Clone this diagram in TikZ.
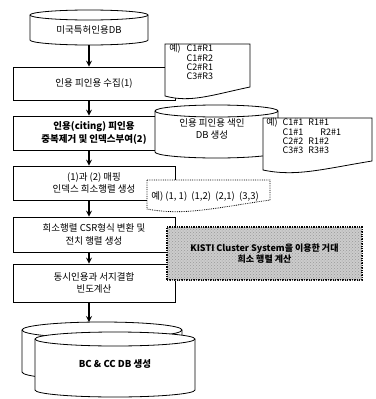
\documentclass[tikz,border=0pt]{standalone}
\usepackage{fontspec}
\setmainfont{Noto Sans CJK KR}
\usepackage{tikz}
\usetikzlibrary{arrows,patterns}

% cylinder: left, right, top rim, bottom rim, rim half height
\newcommand{\dbcyl}[5]{%
  \pgfmathsetmacro\dbrx{(#2-#1)/2}
  \filldraw[fill=white] (#1,#3) -- (#1,#4)
    arc[start angle=180,end angle=0,x radius=\dbrx,y radius=#5]
    -- (#2,#3) arc[start angle=360,end angle=180,x radius=\dbrx,y radius=#5] -- cycle;
  \draw (#1,#3) arc[start angle=180,end angle=0,x radius=\dbrx,y radius=#5];}

% note sheet with wavy bottom: left, right, top, lowest point, style
\newcommand{\notedoc}[5]{%
  \filldraw[fill=white,#5] (#1,#3) -- (#2,#3) -- (#2,{#4-12})
    .. controls ({#1+0.55*(#2-#1)},{#4-4}) and ({#1+0.3*(#2-#1)},{#4+4}) .. (#1,{#4-3}) -- cycle;}

\begin{document}
\begin{tikzpicture}[x=1pt,y=-1pt,line width=0.8pt,
  font=\fontsize{9.5}{12.5}\selectfont,
  proc/.style={draw,fill=white,minimum width=162pt,align=center,inner sep=2pt},
  exnote/.style={inner sep=0,font=\fontsize{9}{8.8}\selectfont},
  flow/.style={-stealth,line width=1.6pt}]
  \useasboundingbox (0,0) rectangle (375,399);

  \dbcyl{30}{148}{15}{40}{5}
  \node[minimum height=30pt,inner sep=0] (db1) at (89,30) {미국특허인용DB};

  \node[proc,minimum height=33pt] (box1) at (94,83.5) {인용 피인용 수집(1)};
  \notedoc{165}{250}{44}{99}{}
  \node[exnote,anchor=north west] (ex1) at (169,44)
    {\begin{tabular}{@{}l@{\hspace{6pt}}l@{}}예) & C1\#R1\\ & C1\#R2\\ & C2\#R1\\ & C3\#R3\end{tabular}};

  \node[proc,minimum height=34pt,font=\fontsize{9.5}{12.5}\selectfont\bfseries] (box2) at (94,133)
    {인용(citing) 피인용\\중복제거 및 인덱스부여(2)};
  \dbcyl{155}{278}{111}{152}{6}
  \node[align=center] (idxdb) at (212,129) {인용 피인용 색인\\DB 생성};
  \notedoc{263}{372}{118}{173}{}
  \node[exnote,anchor=north west] (ex2) at (266,118)
    {\begin{tabular}{@{}l@{\hspace{5pt}}l@{\hspace{5pt}}l@{}}예) & C1\#1 & R1\#1\\ & C1\#1 & \hspace{12pt}R2\#1\\ & C2\#2 & R1\#2\\ & C3\#3 & R3\#3\end{tabular}};

  \node[proc,minimum height=34pt] (box3) at (94,183) {(1)과 (2) 매핑\\인덱스 희소행렬 생성};
  \notedoc{147}{270}{180}{212}{densely dotted}
  \node[exnote,anchor=west,font=\fontsize{9.5}{11}\selectfont] (ex3) at (151,196)
    {예) (1, 1)\ \ (1,2)\ \ (2,1)\ \ (3,3)};

  \node[proc,minimum height=35pt] (box4) at (94,234.5) {희소행렬 CSR형식 변환 및\\전치 행렬 생성};
  \node[proc,minimum height=38pt] (box5) at (94,283) {동시인용과 서지결합\\빈도계산};
  \node[draw,densely dotted,line width=1.4pt,fill=gray!40,
    postaction={pattern=crosshatch dots,pattern color=gray!80},
    minimum width=195pt,minimum height=53pt,align=center,
    font=\fontsize{9}{11}\selectfont\bfseries] (kisti) at (264.5,253.5)
    {KISTI Cluster System을 이용한 거대\\희소 행렬 계산};

  \dbcyl{22}{182}{330}{372}{8}
  \dbcyl{35}{195}{339}{390}{7}
  \coordinate (bctop) at (89,322);
  \node[font=\fontsize{9.5}{12}\selectfont\bfseries] (bcdb) at (115,364) {BC \& CC DB 생성};

  \path[flow]
    (db1.south) edge (db1.south |- box1.north)
    (box1.south -| db1) edge (box2.north -| db1)
    (box2.south -| db1) edge (box3.north -| db1)
    (box3.south -| db1) edge (box4.north -| db1)
    (box4.south -| db1) edge (box5.north -| db1)
    (box5.south -| db1) edge (bctop);
\end{tikzpicture}
\end{document}
